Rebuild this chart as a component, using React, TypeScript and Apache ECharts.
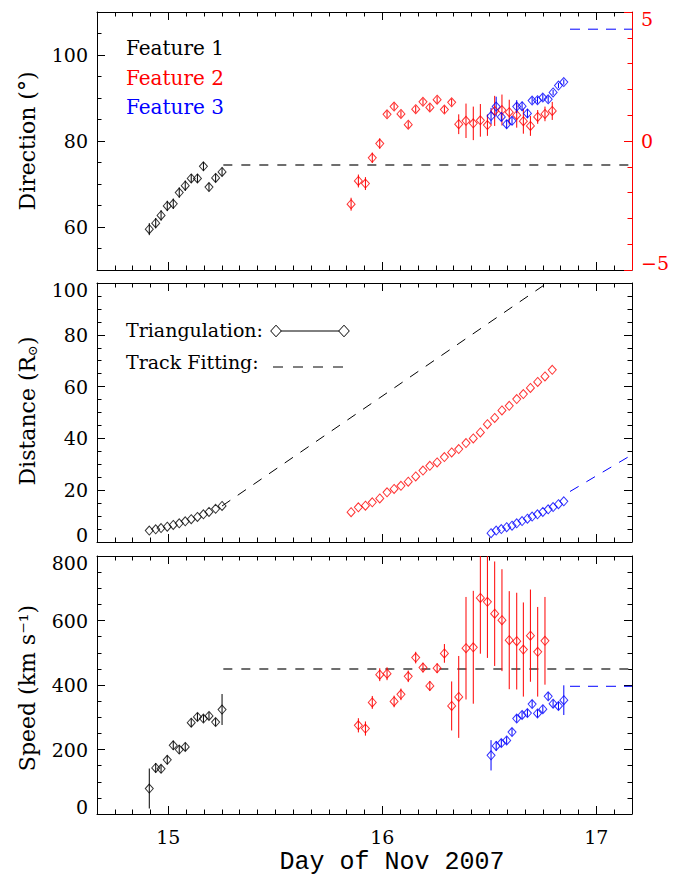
import React, { useEffect, useRef } from "react";
import * as echarts from "echarts";

// ---------- data ----------
// Feature 1 (black)
const times1 = [14.911, 14.941, 14.966, 14.995, 15.023, 15.051, 15.079, 15.107, 15.136, 15.164, 15.19, 15.221, 15.251];
const dir1 = [59.5, 60.9, 62.7, 64.9, 65.4, 68.0, 69.6, 71.3, 71.3, 74.1, 69.3, 71.4, 72.8];
const dirErr1 = [1.4, 1.2, 1.2, 1.2, 1.2, 1.2, 1.2, 1.0, 1.0, 1.0, 1.0, 1.0, 1.0];
const dist1 = [4.4, 4.9, 5.4, 5.9, 6.6, 7.2, 8.0, 8.8, 9.7, 10.7, 11.6, 12.8, 13.9];
const speed1 = [79, 143, 140, 168, 213, 200, 208, 283, 301, 296, 304, 285, 324];
const speedErr1 = [62, 15, 13, 14, 14, 13, 13, 13, 12, 12, 12, 12, 48];

// Feature 2 (red)
const times2 = [15.854, 15.888, 15.921, 15.953, 15.988, 16.022, 16.055, 16.087, 16.121, 16.156, 16.19, 16.222, 16.256, 16.29, 16.324, 16.357, 16.391, 16.425, 16.458, 16.491, 16.525, 16.559, 16.593, 16.628, 16.659, 16.692, 16.726, 16.76, 16.794];
const dir2 = [65.3, 70.7, 70.1, 76.1, 79.4, 86.2, 88.0, 86.3, 83.8, 87.4, 89.1, 87.8, 89.6, 87.3, 89.0, 83.9, 84.7, 84.1, 84.8, 83.7, 87.0, 87.2, 86.7, 86.0, 84.6, 83.5, 85.6, 86.3, 87.0];
const dirErr2 = [1.5, 1.5, 1.5, 1.2, 1.2, 0.8, 0.8, 0.8, 0.8, 0.8, 0.8, 0.8, 0.8, 0.8, 0.8, 2.3, 4.0, 3.9, 3.8, 2.5, 3.5, 3.6, 2.9, 2.9, 2.9, 2.3, 1.6, 1.7, 2.1];
const dist2 = [11.5, 13.4, 14.0, 15.3, 16.8, 19.2, 20.5, 21.7, 23.3, 25.3, 27.6, 29.4, 30.7, 32.8, 34.6, 35.9, 38.2, 40.0, 42.3, 45.5, 47.9, 50.8, 52.6, 55.2, 57.1, 59.5, 61.8, 63.9, 66.5];
const speedTimes2 = times2.slice(1, 28);
const speed2 = [275, 265, 346, 432, 435, 349, 371, 427, 485, 454, 397, 452, 498, 335, 363, 514, 517, 670, 658, 621, 601, 539, 536, 510, 553, 503, 537];
const speedErr2 = [22, 22, 20, 20, 20, 18, 18, 18, 18, 15, 15, 15, 29, 76, 127, 159, 175, 173, 174, 162, 158, 152, 150, 146, 143, 139, 136];

// Feature 3 (blue)
const times3 = [16.508, 16.532, 16.556, 16.581, 16.606, 16.628, 16.653, 16.678, 16.7, 16.725, 16.75, 16.775, 16.798, 16.823, 16.848];
const dir3 = [85.8, 88.0, 85.6, 83.9, 84.7, 88.0, 88.1, 86.4, 89.4, 89.5, 90.1, 89.7, 91.3, 92.9, 93.7];
const dirErr3 = [1.9, 2.3, 1.0, 1.0, 1.0, 1.5, 1.0, 1.0, 0.8, 0.8, 0.8, 0.8, 0.6, 0.6, 0.6];
const dist3 = [3.4, 4.4, 5.0, 5.7, 6.3, 7.2, 8.1, 9.0, 9.8, 10.7, 11.6, 12.6, 13.5, 14.6, 15.7];
const speed3 = [182, 211, 220, 228, 254, 296, 307, 313, 341, 312, 325, 365, 342, 335, 353];
const speedErr3 = [47, 15, 12, 12, 12, 12, 12, 12, 12, 12, 12, 12, 12, 12, 46];

// Track fitting results
const fit1Times = [15.257, 17.1667];
const fit1Dir = [74.4, 74.4];
const fit1Speed = [450, 450];
const fit1DistTimes = [15.251, 16.77];
const fit1Dist = [13.9, 100];
const fit3Times = [16.877, 17.1667];
const fit3Dir = [106.0, 106.0];
const fit3Speed = [396, 396];
const fit3Dist = [19.5, 33.7];

// axes / ticks
const X_MIN = 14 + 8 / 12;
const X_MAX = 17 + 2 / 12;
const xMajor = [15, 16, 17];
const dirMajor = [60, 80, 100];
const distMajor = [0, 20, 40, 60, 80, 100];
const speedMajor = [0, 200, 400, 600, 800];
const rightMajor = [-5, 0, 5];

const FONT = "DejaVu Serif";
const RED = "#ff0000";
const BLUE = "#0000ff";

function steps(a: number, b: number, s: number) {
  const out: number[] = [];
  for (let v = a; v <= b + 1e-9; v += s) out.push(+v.toFixed(6));
  return out;
}

const xMinor = steps(14 + 9 / 12, 17 + 1 / 12, 1 / 12);

const grids = [
  { left: 97, top: 12, width: 535, height: 258 },
  { left: 97, top: 283, width: 535, height: 259 },
  { left: 97, top: 556, width: 535, height: 258 },
];

const shiftRich = {
  lo: { padding: [0, 0, 14, 0], fontFamily: FONT, fontSize: 19 },
  hi: { padding: [14, 0, 0, 0], fontFamily: FONT, fontSize: 19 },
};

function fmtMinus(v: number) {
  return v < 0 ? "\u2212" + Math.abs(v) : String(v);
}

function xAxes(g: number, showLabels: boolean) {
  const mk = (position: string, vals: number[], len: number, line: boolean, labels: boolean) => ({
    type: "value",
    gridIndex: g,
    position,
    min: X_MIN,
    max: X_MAX,
    axisLine: { show: line, onZero: false, lineStyle: { color: "#000", width: 1 } },
    axisTick: { show: true, inside: true, length: len, customValues: vals, lineStyle: { color: "#000", width: 1 } },
    axisLabel: labels
      ? { show: true, customValues: vals, fontFamily: FONT, fontSize: 19, color: "#000", margin: 13 }
      : { show: false },
    splitLine: { show: false },
  });
  return [
    mk("bottom", xMajor, 8, true, showLabels),
    mk("bottom", xMinor, 4.5, false, false),
    mk("top", xMajor, 8, true, false),
    mk("top", xMinor, 4.5, false, false),
  ];
}

function yAxes(
  g: number,
  min: number,
  max: number,
  major: number[],
  minor: number[],
  edgeShift: boolean,
  right?: { min: number; max: number; major: number[]; minor: number[]; color: string }
) {
  const labelFmt = (v: number) => {
    const s = fmtMinus(v);
    if (!edgeShift) return s;
    if (Math.abs(v - min) < 1e-9) return `{lo|${s}}`;
    if (Math.abs(v - max) < 1e-9) return `{hi|${s}}`;
    return s;
  };
  const mk = (
    position: string,
    mn: number,
    mx: number,
    vals: number[],
    len: number,
    line: boolean,
    label: any,
    color: string
  ) => ({
    type: "value",
    gridIndex: g,
    position,
    min: mn,
    max: mx,
    axisLine: { show: line, onZero: false, lineStyle: { color, width: 1 } },
    axisTick: { show: true, inside: true, length: len, customValues: vals, lineStyle: { color, width: 1 } },
    axisLabel: label ? { ...label, customValues: vals } : { show: false },
    splitLine: { show: false },
  });
  const leftLabel = {
    show: true,
    fontFamily: FONT,
    fontSize: 19,
    color: "#000",
    margin: 9,
    formatter: labelFmt,
    rich: shiftRich,
  };
  const rc = right ? right.color : "#000";
  const rmin = right ? right.min : min;
  const rmax = right ? right.max : max;
  const rMajor = right ? right.major : major;
  const rMinor = right ? right.minor : minor;
  const rightLabel = right
    ? {
        show: true,
        fontFamily: FONT,
        fontSize: 19,
        color: right.color,
        margin: 9,
        formatter: (v: number) => {
          const s = fmtMinus(v);
          if (Math.abs(v - right.min) < 1e-9) return `{lo|${s}}`;
          if (Math.abs(v - right.max) < 1e-9) return `{hi|${s}}`;
          return s;
        },
        rich: {
          lo: { ...shiftRich.lo, color: right.color },
          hi: { ...shiftRich.hi, color: right.color },
        },
      }
    : null;
  return [
    mk("left", min, max, major, 8, true, leftLabel, "#000"),
    mk("left", min, max, minor, 4.5, false, null, "#000"),
    mk("right", rmin, rmax, rMajor, 8, true, rightLabel, rc),
    mk("right", rmin, rmax, rMinor, 4.5, false, null, rc),
  ];
}

function errSeries(g: number, t: number[], v: number[], e: number[], color: string, width = 1) {
  return {
    type: "custom",
    xAxisIndex: g * 4,
    yAxisIndex: g * 4,
    clip: true,
    silent: true,
    z: 1,
    data: t.map((x, i) => [x, v[i] - e[i], v[i] + e[i]]),
    encode: { x: 0, y: [1, 2] },
    renderItem: (_p: any, api: any) => {
      const a = api.coord([api.value(0), api.value(1)]);
      const b = api.coord([api.value(0), api.value(2)]);
      return {
        type: "line",
        shape: { x1: a[0], y1: a[1], x2: b[0], y2: b[1] },
        style: { stroke: color, lineWidth: width },
      };
    },
  };
}

function ptSeries(g: number, t: number[], v: number[], color: string) {
  return {
    type: "scatter",
    xAxisIndex: g * 4,
    yAxisIndex: g * 4,
    symbol: "diamond",
    symbolSize: [8, 9],
    silent: true,
    z: 3,
    data: t.map((x, i) => [x, v[i]]),
    itemStyle: { color: "rgba(0,0,0,0)", borderColor: color, borderWidth: 1 },
  };
}

function fitSeries(g: number, t: number[], v: number[], color: string, width: number, dash: number[]) {
  return {
    type: "line",
    xAxisIndex: g * 4,
    yAxisIndex: g * 4,
    showSymbol: false,
    symbol: "none",
    silent: true,
    clip: true,
    z: 0,
    data: t.map((x, i) => [x, v[i]]),
    lineStyle: { color, width, type: dash },
  };
}

function diamondPts(cx: number, cy: number, w: number, h: number) {
  return [
    [cx, cy - h],
    [cx + w, cy],
    [cx, cy + h],
    [cx - w, cy],
  ];
}

export default function App() {
  const ref = useRef<HTMLDivElement>(null);
  useEffect(() => {
    if (!ref.current) return;
    const chart = echarts.init(ref.current, null, { renderer: "svg" });
    const option: any = {
      animation: false,
      backgroundColor: "#fff",
      grid: grids,
      xAxis: [...xAxes(0, false), ...xAxes(1, false), ...xAxes(2, true)],
      yAxis: [
        ...yAxes(0, 50, 110, dirMajor, steps(55, 105, 5), false, {
          min: -5,
          max: 5,
          major: rightMajor,
          minor: steps(-4, 4, 1),
          color: RED,
        }),
        ...yAxes(1, 0, 100, distMajor, steps(5, 95, 5), true),
        ...yAxes(2, 0, 800, speedMajor, steps(50, 750, 50), true),
      ],
      series: [
        // direction
        fitSeries(0, fit1Times, fit1Dir, "#6e6e6e", 2, [9, 9]),
        fitSeries(0, fit3Times, fit3Dir, BLUE, 1, [10, 8]),
        errSeries(0, times1, dir1, dirErr1, "#000"),
        errSeries(0, times2, dir2, dirErr2, RED),
        errSeries(0, times3, dir3, dirErr3, BLUE),
        ptSeries(0, times1, dir1, "#000"),
        ptSeries(0, times2, dir2, RED),
        ptSeries(0, times3, dir3, BLUE),
        // distance
        fitSeries(1, fit1DistTimes, fit1Dist, "#000", 1, [10, 9]),
        fitSeries(1, fit3Times, fit3Dist, BLUE, 1, [10, 9]),
        ptSeries(1, times1, dist1, "#000"),
        ptSeries(1, times2, dist2, RED),
        ptSeries(1, times3, dist3, BLUE),
        // speed
        fitSeries(2, fit1Times, fit1Speed, "#6e6e6e", 2, [9, 9]),
        fitSeries(2, fit3Times, fit3Speed, BLUE, 1, [10, 8]),
        errSeries(2, times1, speed1, speedErr1, "#000"),
        errSeries(2, speedTimes2, speed2, speedErr2, RED),
        errSeries(2, times3, speed3, speedErr3, BLUE),
        ptSeries(2, times1, speed1, "#000"),
        ptSeries(2, speedTimes2, speed2, RED),
        ptSeries(2, times3, speed3, BLUE),
      ],
      graphic: [
        // panel 1 legend
        { type: "text", left: 126, top: 38, style: { text: "Feature 1", fill: "#000", font: `20px '${FONT}'` } },
        { type: "text", left: 126, top: 68, style: { text: "Feature 2", fill: RED, font: `20px '${FONT}'` } },
        { type: "text", left: 126, top: 97, style: { text: "Feature 3", fill: BLUE, font: `20px '${FONT}'` } },
        // panel 2 legend
        { type: "text", left: 126, top: 320, style: { text: "Triangulation:", fill: "#000", font: `19px '${FONT}'` } },
        { type: "text", left: 126, top: 352, style: { text: "Track Fitting:", fill: "#000", font: `19px '${FONT}'` } },
        { type: "line", shape: { x1: 281, y1: 331, x2: 339, y2: 331 }, style: { stroke: "#000", lineWidth: 1 } },
        { type: "polygon", shape: { points: diamondPts(276, 331, 5.3, 5.8) }, style: { fill: "#fff", stroke: "#000", lineWidth: 1 } },
        { type: "polygon", shape: { points: diamondPts(344, 331, 5.3, 5.8) }, style: { fill: "#fff", stroke: "#000", lineWidth: 1 } },
        { type: "line", shape: { x1: 273, y1: 367, x2: 347, y2: 367 }, style: { stroke: "#000", lineWidth: 1, lineDash: [10, 10] } },
        // axis titles
        {
          type: "text",
          x: 27,
          y: 141,
          rotation: Math.PI / 2,
          style: { text: "Direction (\u00b0)", fill: "#000", font: `22px '${FONT}'`, align: "center", verticalAlign: "middle" },
        },
        {
          type: "text",
          x: 27,
          y: 411,
          rotation: Math.PI / 2,
          style: {
            text: "Distance (R{s|\u2299})",
            fill: "#000",
            font: `22px '${FONT}'`,
            align: "center",
            verticalAlign: "middle",
            rich: { s: { fontSize: 13, fontFamily: FONT, padding: [10, 0, 0, 0] } },
          },
        },
        {
          type: "text",
          x: 27,
          y: 688,
          rotation: Math.PI / 2,
          style: { text: "Speed (km s\u207b\u00b9)", fill: "#000", font: `22px '${FONT}'`, align: "center", verticalAlign: "middle" },
        },
        {
          type: "text",
          x: 392,
          y: 862,
          style: { text: "Day of Nov 2007", fill: "#000", font: `25px 'Liberation Mono'`, align: "center", verticalAlign: "middle" },
        },
      ],
    };
    chart.setOption(option);
    return () => chart.dispose();
  }, []);
  return <div ref={ref} style={{ position: "absolute", left: 0, top: 0, width: 678, height: 876 }} />;
}
